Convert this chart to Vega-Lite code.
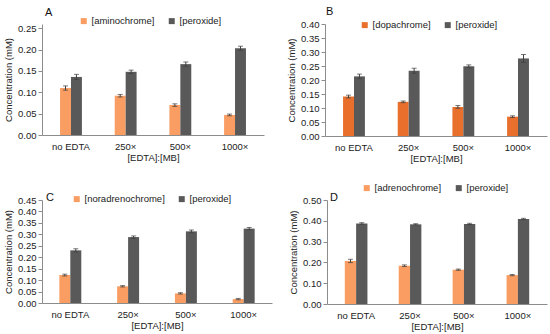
{
  "$schema": "https://vega.github.io/schema/vega-lite/v6.json",
  "padding": {"left": 3, "top": 6, "right": 5, "bottom": 2},
  "config": {
    "font": "Liberation Sans",
    "view": {"stroke": null},
    "axis": {"labelFontSize": 9.5, "titleFontSize": 9.5, "titleFontWeight": "normal", "labelColor": "#222", "titleColor": "#222", "domainColor": "#8c8c8c", "tickColor": "#8c8c8c", "grid": false, "tickSize": 4, "labelPadding": 2, "titlePadding": 4},
    "axisX": {"ticks": false, "labelPadding": 6, "titlePadding": 2, "labelAngle": 0},
    "legend": {"labelFontSize": 9.5, "labelColor": "#222", "symbolType": "square", "symbolSize": 36, "symbolStrokeWidth": 0, "direction": "horizontal", "orient": "none", "columnPadding": 12, "labelOffset": 3},
    "title": {"fontSize": 11, "fontWeight": "normal", "anchor": "start", "color": "#111", "frame": "group"}
  },
  "spacing": 20,
  "vconcat": [
    {
      "spacing": 22,
      "resolve": {"scale": {"x": "independent", "y": "independent", "xOffset": "independent", "color": "independent"}, "axis": {"x": "independent", "y": "independent"}, "legend": {"color": "independent"}},
      "hconcat": [
        {
          "title": {"text": "A", "offset": -2, "dx": 3},
          "width": 222, "height": 111,
          "data": {"values": [
            {"cat": "no EDTA", "series": "[aminochrome]", "value": 0.110, "err": 0.005},
            {"cat": "250×", "series": "[aminochrome]", "value": 0.092, "err": 0.003},
            {"cat": "500×", "series": "[aminochrome]", "value": 0.070, "err": 0.003},
            {"cat": "1000×", "series": "[aminochrome]", "value": 0.047, "err": 0.002},
            {"cat": "no EDTA", "series": "[peroxide]", "value": 0.136, "err": 0.006},
            {"cat": "250×", "series": "[peroxide]", "value": 0.148, "err": 0.004},
            {"cat": "500×", "series": "[peroxide]", "value": 0.166, "err": 0.005},
            {"cat": "1000×", "series": "[peroxide]", "value": 0.203, "err": 0.005}
          ]},
          "encoding": {
            "x": {"field": "cat", "type": "nominal", "sort": ["no EDTA", "250×", "500×", "1000×"], "scale": {"paddingInner": 0.6, "paddingOuter": 0.33}, "axis": {"title": "[EDTA]:[MB]"}},
            "xOffset": {"field": "series", "sort": ["[aminochrome]", "[peroxide]"]}
          },
          "layer": [
            {
              "mark": {"type": "bar"},
              "encoding": {
                "y": {"field": "value", "type": "quantitative", "scale": {"domain": [0, 0.25]}, "axis": {"values": [0, 0.05, 0.1, 0.15, 0.2, 0.25], "format": ".2f", "title": "Concentration (mM)"}},
                "color": {"field": "series", "type": "nominal", "scale": {"domain": ["[aminochrome]", "[peroxide]"], "range": ["#F99D62", "#595959"]}, "legend": {"title": null, "legendX": 37, "legendY": -8}}
              }
            },
            {
              "mark": {"type": "errorbar", "ticks": {"size": 5}, "color": "#404040"},
              "encoding": {
                "y": {"field": "value", "type": "quantitative", "axis": {"values": [0, 0.05, 0.1, 0.15, 0.2, 0.25], "format": ".2f", "title": "Concentration (mM)"}},
                "yError": {"field": "err"}
              }
            }
          ]
        },
        {
          "title": {"text": "B", "offset": 2, "dx": 1},
          "width": 222, "height": 112,
          "data": {"values": [
            {"cat": "no EDTA", "series": "[dopachrome]", "value": 0.141, "err": 0.005},
            {"cat": "250×", "series": "[dopachrome]", "value": 0.122, "err": 0.003},
            {"cat": "500×", "series": "[dopachrome]", "value": 0.104, "err": 0.005},
            {"cat": "1000×", "series": "[dopachrome]", "value": 0.069, "err": 0.003},
            {"cat": "no EDTA", "series": "[peroxide]", "value": 0.213, "err": 0.008},
            {"cat": "250×", "series": "[peroxide]", "value": 0.233, "err": 0.009},
            {"cat": "500×", "series": "[peroxide]", "value": 0.249, "err": 0.005},
            {"cat": "1000×", "series": "[peroxide]", "value": 0.277, "err": 0.014}
          ]},
          "encoding": {
            "x": {"field": "cat", "type": "nominal", "sort": ["no EDTA", "250×", "500×", "1000×"], "scale": {"paddingInner": 0.6, "paddingOuter": 0.33}, "axis": {"title": "[EDTA]:[MB]"}},
            "xOffset": {"field": "series", "sort": ["[dopachrome]", "[peroxide]"]}
          },
          "layer": [
            {
              "mark": {"type": "bar"},
              "encoding": {
                "y": {"field": "value", "type": "quantitative", "scale": {"domain": [0, 0.4]}, "axis": {"values": [0, 0.05, 0.1, 0.15, 0.2, 0.25, 0.3, 0.35, 0.4], "format": ".2f", "title": "Concentration (mM)"}},
                "color": {"field": "series", "type": "nominal", "scale": {"domain": ["[dopachrome]", "[peroxide]"], "range": ["#E8702C", "#595959"]}, "legend": {"title": null, "legendX": 35, "legendY": -4}}
              }
            },
            {
              "mark": {"type": "errorbar", "ticks": {"size": 5}, "color": "#404040"},
              "encoding": {
                "y": {"field": "value", "type": "quantitative", "axis": {"values": [0, 0.05, 0.1, 0.15, 0.2, 0.25, 0.3, 0.35, 0.4], "format": ".2f", "title": "Concentration (mM)"}},
                "yError": {"field": "err"}
              }
            }
          ]
        }
      ]
    },
    {
      "spacing": 16,
      "resolve": {"scale": {"x": "independent", "y": "independent", "xOffset": "independent", "color": "independent"}, "axis": {"x": "independent", "y": "independent"}, "legend": {"color": "independent"}},
      "hconcat": [
        {
          "title": {"text": "C", "offset": -9, "dx": 4},
          "width": 230, "height": 103,
          "data": {"values": [
            {"cat": "no EDTA", "series": "[noradrenochrome]", "value": 0.122, "err": 0.004},
            {"cat": "250×", "series": "[noradrenochrome]", "value": 0.073, "err": 0.003},
            {"cat": "500×", "series": "[noradrenochrome]", "value": 0.042, "err": 0.003},
            {"cat": "1000×", "series": "[noradrenochrome]", "value": 0.017, "err": 0.003},
            {"cat": "no EDTA", "series": "[peroxide]", "value": 0.230, "err": 0.007},
            {"cat": "250×", "series": "[peroxide]", "value": 0.288, "err": 0.005},
            {"cat": "500×", "series": "[peroxide]", "value": 0.313, "err": 0.006},
            {"cat": "1000×", "series": "[peroxide]", "value": 0.325, "err": 0.005}
          ]},
          "encoding": {
            "x": {"field": "cat", "type": "nominal", "sort": ["no EDTA", "250×", "500×", "1000×"], "scale": {"paddingInner": 0.62, "paddingOuter": 0.3}, "axis": {"title": "[EDTA]:[MB]"}},
            "xOffset": {"field": "series", "sort": ["[noradrenochrome]", "[peroxide]"]}
          },
          "layer": [
            {
              "mark": {"type": "bar"},
              "encoding": {
                "y": {"field": "value", "type": "quantitative", "scale": {"domain": [0, 0.45]}, "axis": {"values": [0, 0.05, 0.1, 0.15, 0.2, 0.25, 0.3, 0.35, 0.4, 0.45], "format": ".2f", "title": "Concentration (mM)"}},
                "color": {"field": "series", "type": "nominal", "scale": {"domain": ["[noradrenochrome]", "[peroxide]"], "range": ["#F99D62", "#595959"]}, "legend": {"title": null, "legendX": 30, "legendY": -6}}
              }
            },
            {
              "mark": {"type": "errorbar", "ticks": {"size": 5}, "color": "#404040"},
              "encoding": {
                "y": {"field": "value", "type": "quantitative", "axis": {"values": [0, 0.05, 0.1, 0.15, 0.2, 0.25, 0.3, 0.35, 0.4, 0.45], "format": ".2f", "title": "Concentration (mM)"}},
                "yError": {"field": "err"}
              }
            }
          ]
        },
        {
          "title": {"text": "D", "offset": -20, "dx": 3},
          "width": 220, "height": 104,
          "data": {"values": [
            {"cat": "no EDTA", "series": "[adrenochrome]", "value": 0.207, "err": 0.008},
            {"cat": "250×", "series": "[adrenochrome]", "value": 0.184, "err": 0.004},
            {"cat": "500×", "series": "[adrenochrome]", "value": 0.165, "err": 0.003},
            {"cat": "1000×", "series": "[adrenochrome]", "value": 0.139, "err": 0.003},
            {"cat": "no EDTA", "series": "[peroxide]", "value": 0.387, "err": 0.004},
            {"cat": "250×", "series": "[peroxide]", "value": 0.383, "err": 0.003},
            {"cat": "500×", "series": "[peroxide]", "value": 0.385, "err": 0.003},
            {"cat": "1000×", "series": "[peroxide]", "value": 0.409, "err": 0.003}
          ]},
          "encoding": {
            "x": {"field": "cat", "type": "nominal", "sort": ["no EDTA", "250×", "500×", "1000×"], "scale": {"paddingInner": 0.58, "paddingOuter": 0.33}, "axis": {"title": "[EDTA]:[MB]"}},
            "xOffset": {"field": "series", "sort": ["[adrenochrome]", "[peroxide]"]}
          },
          "layer": [
            {
              "mark": {"type": "bar"},
              "encoding": {
                "y": {"field": "value", "type": "quantitative", "scale": {"domain": [0, 0.5]}, "axis": {"values": [0, 0.1, 0.2, 0.3, 0.4, 0.5], "format": ".2f", "title": "Concentration (mM)"}},
                "color": {"field": "series", "type": "nominal", "scale": {"domain": ["[adrenochrome]", "[peroxide]"], "range": ["#F99D62", "#595959"]}, "legend": {"title": null, "legendX": 35, "legendY": -17}}
              }
            },
            {
              "mark": {"type": "errorbar", "ticks": {"size": 5}, "color": "#404040"},
              "encoding": {
                "y": {"field": "value", "type": "quantitative", "axis": {"values": [0, 0.1, 0.2, 0.3, 0.4, 0.5], "format": ".2f", "title": "Concentration (mM)"}},
                "yError": {"field": "err"}
              }
            }
          ]
        }
      ]
    }
  ]
}
